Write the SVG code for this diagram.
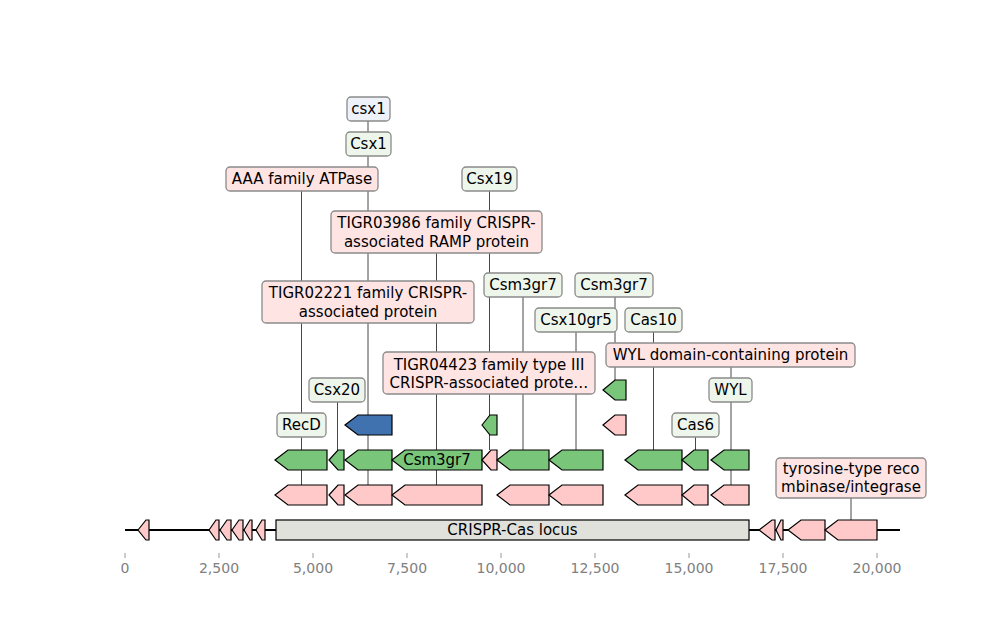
<svg xmlns="http://www.w3.org/2000/svg" width="1000" height="620" viewBox="0 0 1000 620">
<style>
text{font-family:"DejaVu Sans","Liberation Sans",sans-serif;font-size:15px;fill:#000;text-anchor:middle}
.tick{font-size:14px;fill:#808080}
.conn line{stroke:#333;stroke-width:0.9}
.pk{fill:#ffc9c9;stroke:#000;stroke-width:1.2;stroke-linejoin:miter}
.gr{fill:#79c67a;stroke:#000;stroke-width:1.2}
.bl{fill:#4072b0;stroke:#000;stroke-width:1.2}
.lb rect{stroke:#8a8a8a;stroke-width:1.3;rx:4;ry:4}
.lp rect{fill:#ffe4e4}
.lg rect{fill:#eef6ec}
.lbb rect{fill:#eef1f8}
</style>
<rect width="1000" height="620" fill="#fff"/>
<g id="axis">
<line x1="125" y1="530" x2="900" y2="530" stroke="#000" stroke-width="2"/>
<g stroke="#999" stroke-width="1">
<line x1="125" y1="553" x2="125" y2="558"/><line x1="219" y1="553" x2="219" y2="558"/><line x1="313" y1="553" x2="313" y2="558"/><line x1="407" y1="553" x2="407" y2="558"/><line x1="501" y1="553" x2="501" y2="558"/><line x1="595" y1="553" x2="595" y2="558"/><line x1="689" y1="553" x2="689" y2="558"/><line x1="783" y1="553" x2="783" y2="558"/><line x1="877" y1="553" x2="877" y2="558"/>
</g>
<text class="tick" x="125" y="573">0</text><text class="tick" x="219" y="573">2,500</text><text class="tick" x="313" y="573">5,000</text><text class="tick" x="407" y="573">7,500</text><text class="tick" x="501" y="573">10,000</text><text class="tick" x="595" y="573">12,500</text><text class="tick" x="689" y="573">15,000</text><text class="tick" x="783" y="573">17,500</text><text class="tick" x="877" y="573">20,000</text>
</g>
<g id="connectors" class="conn">
<line x1="368" y1="121" x2="368" y2="485"/>
<line x1="301.5" y1="191" x2="301.5" y2="485"/>
<line x1="436.5" y1="253" x2="436.5" y2="485"/>
<line x1="489.5" y1="191" x2="489.5" y2="450"/>
<line x1="523" y1="297" x2="523" y2="450"/>
<line x1="576" y1="332" x2="576" y2="450"/>
<line x1="615" y1="297" x2="615" y2="380"/>
<line x1="653.5" y1="332" x2="653.5" y2="450"/>
<line x1="731" y1="367" x2="731" y2="485"/>
<line x1="695.5" y1="437" x2="695.5" y2="450"/>
<line x1="337.5" y1="402" x2="337.5" y2="450"/>
<line x1="851" y1="498" x2="851" y2="520"/>
</g>
<g id="main-track">
<path class="pk" d="M138,530 L146,520 L149,520 L149,540 L146,540 Z"/>
<path class="pk" d="M209,530 L216,520 L219,520 L219,540 L216,540 Z"/>
<path class="pk" d="M220,530 L227,520 L231,520 L231,540 L227,540 Z"/>
<path class="pk" d="M232,530 L239,520 L243,520 L243,540 L239,540 Z"/>
<path class="pk" d="M244,530 L250,520 L252,520 L252,540 L250,540 Z"/>
<path class="pk" d="M256,530 L262,520 L265,520 L265,540 L262,540 Z"/>
<g id="locus"><rect x="276" y="520" width="473" height="20" fill="#e1e1dc" stroke="#000" stroke-width="1.2"/><text x="512.5" y="535.3">CRISPR-Cas locus</text></g>
<path class="pk" d="M759,530 L772,520 L775,520 L775,540 L772,540 Z"/>
<path class="pk" d="M776,530 L781,520 L783,520 L783,540 L781,540 Z"/>
<path class="pk" d="M788,530 L801,520 L825,520 L825,540 L801,540 Z"/>
<path class="pk" d="M825,530 L838,520 L877,520 L877,540 L838,540 Z"/>
</g>
<g id="row1">
<path class="pk" d="M275,495 L288,485 L327,485 L327,505 L288,505 Z"/>
<path class="pk" d="M329,495 L338,485 L344,485 L344,505 L338,505 Z"/>
<path class="pk" d="M345,495 L358,485 L392,485 L392,505 L358,505 Z"/>
<path class="pk" d="M392,495 L405,485 L482,485 L482,505 L405,505 Z"/>
<path class="pk" d="M497,495 L510,485 L549,485 L549,505 L510,505 Z"/>
<path class="pk" d="M549,495 L562,485 L603,485 L603,505 L562,505 Z"/>
<path class="pk" d="M625,495 L638,485 L682,485 L682,505 L638,505 Z"/>
<path class="pk" d="M682,495 L694,485 L708,485 L708,505 L694,505 Z"/>
<path class="pk" d="M711,495 L724,485 L749,485 L749,505 L724,505 Z"/>
</g>
<g id="row2">
<path class="gr" d="M275,460 L288,450 L327,450 L327,470 L288,470 Z"/>
<path class="gr" d="M329,460 L338,450 L344,450 L344,470 L338,470 Z"/>
<path class="gr" d="M345,460 L358,450 L392,450 L392,470 L358,470 Z"/>
<g id="csm3gr7-gene"><path class="gr" d="M392,460 L405,450 L482,450 L482,470 L405,470 Z"/><text x="437" y="465.3">Csm3gr7</text></g>
<path class="pk" d="M482,460 L491,450 L497,450 L497,470 L491,470 Z"/>
<path class="gr" d="M497,460 L510,450 L549,450 L549,470 L510,470 Z"/>
<path class="gr" d="M549,460 L562,450 L603,450 L603,470 L562,470 Z"/>
<path class="gr" d="M625,460 L638,450 L682,450 L682,470 L638,470 Z"/>
<path class="gr" d="M682,460 L694,450 L708,450 L708,470 L694,470 Z"/>
<path class="gr" d="M711,460 L724,450 L749,450 L749,470 L724,470 Z"/>
</g>
<g id="row3">
<path class="bl" d="M345,425 L358,415 L392,415 L392,435 L358,435 Z"/>
<path class="gr" d="M482,425 L490,415 L497,415 L497,435 L490,435 Z"/>
<path class="pk" d="M603,425 L615,415 L626,415 L626,435 L615,435 Z"/>
</g>
<g id="row4">
<path class="gr" d="M603,390 L615,380 L626,380 L626,400 L615,400 Z"/>
</g>
<g id="lbl-csx1-lower" class="lb lbb"><rect x="347" y="97" width="43" height="24"/><text x="368.5" y="114.3">csx1</text></g>
<g id="lbl-Csx1" class="lb lg"><rect x="346" y="132" width="45" height="24"/><text x="368.5" y="149.3">Csx1</text></g>
<g id="lbl-AAA" class="lb lp"><rect x="226" y="167" width="152" height="24"/><text x="302" y="184.3">AAA family ATPase</text></g>
<g id="lbl-Csx19" class="lb lg"><rect x="462" y="167" width="55" height="24"/><text x="489.5" y="184.3">Csx19</text></g>
<g id="lbl-TIGR03986" class="lb lp"><rect x="331" y="211" width="211" height="42"/><text x="436.5" y="228">TIGR03986 family CRISPR-</text><text x="436.5" y="246.5">associated RAMP protein</text></g>
<g id="lbl-TIGR02221" class="lb lp"><rect x="262" y="281" width="212" height="42"/><text x="368" y="298">TIGR02221 family CRISPR-</text><text x="368" y="316.5">associated protein</text></g>
<g id="lbl-Csm3gr7-a" class="lb lg"><rect x="484" y="273" width="78" height="24"/><text x="523" y="290.3">Csm3gr7</text></g>
<g id="lbl-Csm3gr7-b" class="lb lg"><rect x="575" y="273" width="78" height="24"/><text x="614" y="290.3">Csm3gr7</text></g>
<g id="lbl-Csx10gr5" class="lb lg"><rect x="535" y="308" width="82" height="24"/><text x="576" y="325.3">Csx10gr5</text></g>
<g id="lbl-Cas10" class="lb lg"><rect x="625" y="308" width="57" height="24"/><text x="653.5" y="325.3">Cas10</text></g>
<g id="lbl-WYLdomain" class="lb lp"><rect x="606" y="343" width="249" height="24"/><text x="730.5" y="360.3">WYL domain-containing protein</text></g>
<g id="lbl-TIGR04423" class="lb lp"><rect x="383" y="352" width="212" height="42"/><text x="489" y="369.5">TIGR04423 family type III</text><text x="489" y="387.5">CRISPR-associated prote…</text></g>
<g id="lbl-Csx20" class="lb lg"><rect x="309" y="378" width="56" height="24"/><text x="337" y="395.3">Csx20</text></g>
<g id="lbl-WYL" class="lb lg"><rect x="709" y="378" width="43" height="24"/><text x="730.5" y="395.3">WYL</text></g>
<g id="lbl-RecD" class="lb lg"><rect x="277" y="413" width="49" height="24"/><text x="301.5" y="430.3">RecD</text></g>
<g id="lbl-Cas6" class="lb lg"><rect x="672" y="413" width="47" height="24"/><text x="695.5" y="430.3">Cas6</text></g>
<g id="lbl-tyrosine" class="lb lp"><rect x="776" y="458" width="150" height="40"/><text x="851" y="474">tyrosine-type reco</text><text x="851" y="492">mbinase/integrase</text></g>
</svg>
